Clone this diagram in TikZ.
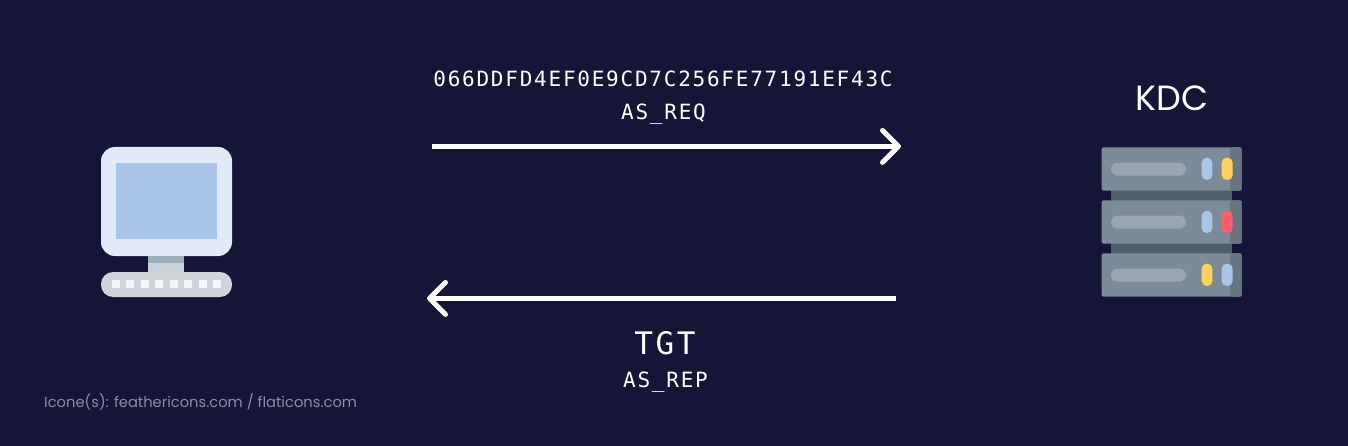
\documentclass[tikz,border=0pt]{standalone}
\usepackage{fontspec}
\setmainfont{Poppins}
\newfontfamily\monofont[LetterSpace=8.4]{DejaVu Sans Mono}
\usetikzlibrary{arrows.meta}
\definecolor{bgnavy}{HTML}{151538}
\definecolor{frameblue}{HTML}{E1EBF7}
\definecolor{screenblue}{HTML}{A9C6E8}
\definecolor{standlight}{HTML}{C9D3DC}
\definecolor{standdark}{HTML}{9DAEBB}
\definecolor{basegray}{HTML}{D0D5DB}
\definecolor{keywhite}{HTML}{F2F6FB}
\definecolor{rackgray}{HTML}{7B8B98}
\definecolor{rackdark}{HTML}{66757F}
\definecolor{rackjoin}{HTML}{4F5F6C}
\definecolor{slotgray}{HTML}{98A6B3}
\definecolor{ledblue}{HTML}{A9C6E8}
\definecolor{ledyellow}{HTML}{FFD15B}
\definecolor{ledred}{HTML}{FF5D6C}
\definecolor{creditgray}{HTML}{8C8DA3}
\tikzset{
    msgarrow/.style={white, line width=5pt, -{Straight Barb[length=16pt,width=32pt,line width=5pt,round]}},
    hexlabel/.style={white, anchor=base, inner sep=0pt, font=\monofont\fontsize{21}{26}\selectfont},
    biglabel/.style={white, anchor=base, inner sep=0pt, font=\monofont\fontsize{31}{40}\selectfont},
    led/.style={rounded corners=5pt},
}
\begin{document}
\begin{tikzpicture}[x=1pt,y=-1pt]
    \fill[bgnavy] (0,0) rectangle (1348,446);
    \useasboundingbox (0,0) rectangle (1348,446);
    % client computer
    \begin{scope}
        \fill[frameblue, rounded corners=14pt] (101,147) rectangle (232,256);
        \fill[screenblue] (115.7,163.3) rectangle (217,238.7);
        \fill[standlight] (148.3,256) rectangle (184.3,273);
        \fill[standdark] (148.3,256) rectangle (184.3,263.3);
        \fill[basegray, rounded corners=12pt] (101,272) rectangle (232,297);
        \foreach \keyx in {0,...,7}
            \fill[keywhite] (111.7+14.5*\keyx,280) rectangle (119.7+14.5*\keyx,288.3);
    \end{scope}
    % kdc server
    \node[white, anchor=base, inner sep=0pt, font=\fontsize{35}{40}\selectfont] (kdclabel) at (1172,110.7) {KDC};
    \fill[rackjoin] (1111,188) rectangle (1232,203);
    \fill[rackjoin] (1111,241) rectangle (1232,256);
    \begin{scope}[shift={(1101.7,147.3)}]
        \fill[rackgray, rounded corners=2pt] (0,0) rectangle (140,43.4);
        \fill[rackdark, rounded corners=2pt] (128.3,0) rectangle (140,43.4);
        \fill[slotgray, rounded corners=6.5pt] (9.3,15.3) rectangle (84.3,28.3);
        \fill[ledblue, led] (100,10.4) rectangle (110.6,32.7);
        \fill[ledyellow, led] (120,10.4) rectangle (131,32.7);
    \end{scope}
    \begin{scope}[shift={(1101.7,200.3)}]
        \fill[rackgray, rounded corners=2pt] (0,0) rectangle (140,43.4);
        \fill[rackdark, rounded corners=2pt] (128.3,0) rectangle (140,43.4);
        \fill[slotgray, rounded corners=6.5pt] (9.3,15.3) rectangle (84.3,28.3);
        \fill[ledblue, led] (100,10.4) rectangle (110.6,32.7);
        \fill[ledred, led] (120,10.4) rectangle (131,32.7);
    \end{scope}
    \begin{scope}[shift={(1101.7,253.3)}]
        \fill[rackgray, rounded corners=2pt] (0,0) rectangle (140,43.4);
        \fill[rackdark, rounded corners=2pt] (128.3,0) rectangle (140,43.4);
        \fill[slotgray, rounded corners=6.5pt] (9.3,15.3) rectangle (84.3,28.3);
        \fill[ledyellow, led] (100,10.4) rectangle (110.6,32.7);
        \fill[ledblue, led] (120,10.4) rectangle (131,32.7);
    \end{scope}
    % request
    \node[hexlabel] (hashlabel) at (663,86.7) {066DDFD4EF0E9CD7C256FE77191EF43C};
    \node[hexlabel] (reqlabel) at (663.5,120) {AS\_REQ};
    \coordinate (reqstart) at (432,146.4);
    \coordinate (reqend) at (901,146.4);
    \draw[msgarrow] (reqstart) -- (reqend);
    % reply
    \coordinate (repstart) at (896,298.4);
    \coordinate (repend) at (427,298.4);
    \draw[msgarrow] (repstart) -- (repend);
    \node[biglabel] (tgtlabel) at (665,354) {TGT};
    \node[hexlabel] (replabel) at (665.5,387.7) {AS\_REP};
    % credit
    \node[creditgray, anchor=base west, inner sep=0pt, font=\fontsize{14.7}{18}\selectfont] (creditlabel) at (44,407) {Icone(s): feathericons.com / flaticons.com};
\end{tikzpicture}
\end{document}
